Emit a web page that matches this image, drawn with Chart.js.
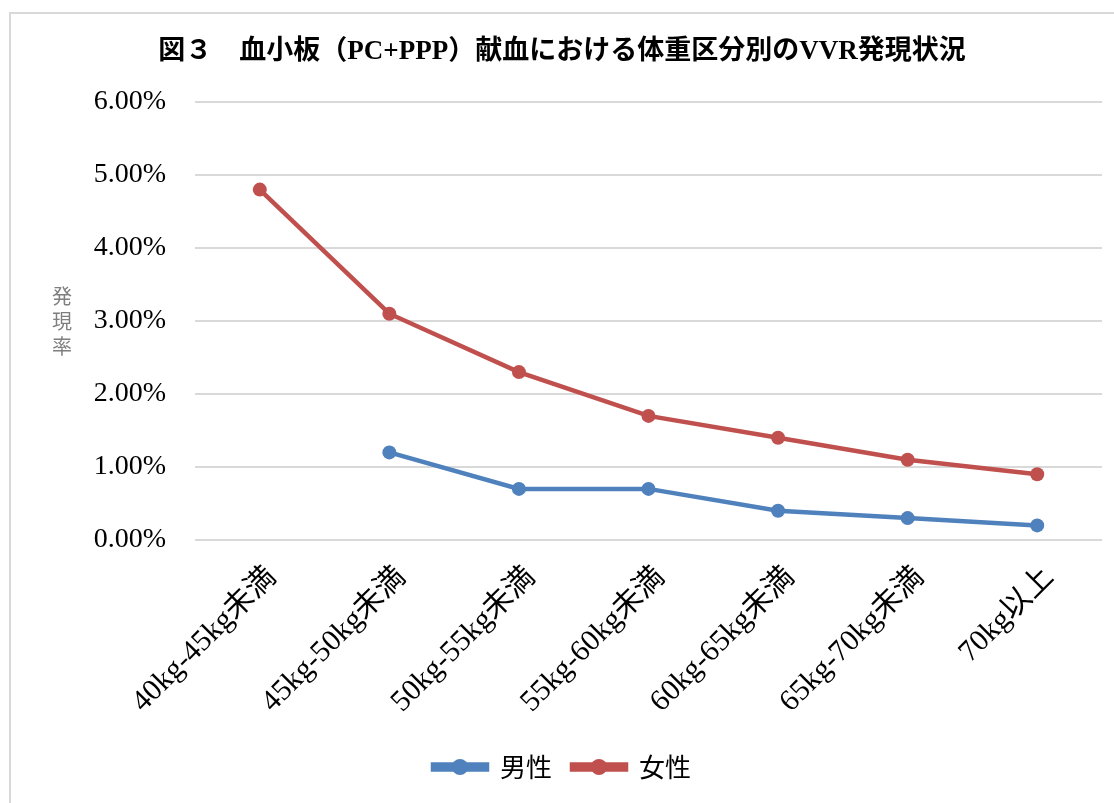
<!DOCTYPE html>
<html lang="ja">
<head>
<meta charset="utf-8">
<title>血小板（PC+PPP）献血における体重区分別のVVR発現状況</title>
<script src="https://cdn.jsdelivr.net/npm/chart.js@4/dist/chart.umd.min.js"></script>
<style>
  html, body { margin: 0; padding: 0; background: #ffffff; }
  #wrap { position: relative; width: 1114px; height: 803px; overflow: hidden; }
  #frame { position: absolute; left: 9px; top: 12px; width: 1200px; height: 900px;
           border-top: 2px solid #d9d9d9; border-left: 2px solid #d9d9d9; }
  #chart { position: absolute; left: 0; top: 0; }
</style>
</head>
<body>
<div id="wrap">
  <div id="frame"></div>
  <canvas id="chart" width="1114" height="803"></canvas>
</div>
<script>
// Weight classes (x axis)
const categories = ['40kg-45kg未満', '45kg-50kg未満', '50kg-55kg未満', '55kg-60kg未満',
                    '60kg-65kg未満', '65kg-70kg未満', '70kg以上'];
// VVR incidence (%) by sex
const maleRates   = [null, 1.2, 0.7, 0.7, 0.4, 0.3, 0.2];
const femaleRates = [4.8, 3.1, 2.3, 1.7, 1.4, 1.1, 0.9];
const seriesNames = ['男性', '女性'];
const seriesColors = ['#4f81bd', '#c0504d'];
const titleText = '図３　血小板（PC+PPP）献血における体重区分別のVVR発現状況';
const yAxisTitle = ['発', '現', '率'];

const serifFont = '"Liberation Serif", "Noto Sans CJK JP", serif';
const sansFont = '"Noto Sans CJK JP", "Noto Sans", sans-serif';

// Vertical, stacked y-axis caption and circle markers on the legend lines
const extras = {
  id: 'extras',
  afterDraw(chart) {
    const ctx = chart.ctx;
    ctx.save();
    ctx.fillStyle = '#7f7f7f';
    ctx.font = '20px ' + sansFont;
    ctx.textAlign = 'center';
    ctx.textBaseline = 'middle';
    const midY = (chart.chartArea.top + chart.chartArea.bottom) / 2;
    yAxisTitle.forEach((ch, i) => {
      ctx.fillText(ch, 62, midY + (i - 1) * 25);
    });
    const legend = chart.legend;
    if (legend && legend.legendHitBoxes) {
      legend.legendHitBoxes.forEach((box, i) => {
        const boxW = legend.options.labels.boxWidth;
        const cx = box.left + boxW / 2;
        const cy = box.top + box.height / 2;
        ctx.beginPath();
        ctx.arc(cx, cy, 8, 0, Math.PI * 2);
        ctx.fillStyle = seriesColors[i];
        ctx.fill();
      });
    }
    ctx.restore();
  }
};

new Chart(document.getElementById('chart'), {
  type: 'line',
  data: {
    labels: categories,
    datasets: [
      { label: seriesNames[0], data: maleRates, borderColor: seriesColors[0],
        backgroundColor: seriesColors[0], borderWidth: 4.5, pointRadius: 7,
        pointBorderWidth: 0, pointBackgroundColor: seriesColors[0], tension: 0 },
      { label: seriesNames[1], data: femaleRates, borderColor: seriesColors[1],
        backgroundColor: seriesColors[1], borderWidth: 4.5, pointRadius: 7,
        pointBorderWidth: 0, pointBackgroundColor: seriesColors[1], tension: 0 }
    ]
  },
  options: {
    responsive: false,
    animation: false,
    layout: { padding: { left: 22, right: 12, top: 0, bottom: 13 } },
    plugins: {
      title: {
        display: true,
        text: titleText,
        color: '#000000',
        font: { family: serifFont, size: 27, weight: 'bold', lineHeight: 1.2 },
        padding: { top: 36, bottom: 33.6 }
      },
      legend: {
        position: 'bottom',
        labels: {
          color: '#000000',
          font: { family: sansFont, size: 26 },
          boxWidth: 54,
          boxHeight: 5,
          padding: 20
        }
      },
      tooltip: { enabled: false }
    },
    scales: {
      x: {
        offset: true,
        grid: { display: false, drawTicks: false },
        border: { display: false },
        ticks: {
          color: '#000000',
          font: { family: serifFont, size: 30 },
          minRotation: 45, maxRotation: 45,
          padding: 20,
          labelOffset: 12
        },
        afterFit(scale) { scale.height = 194; }
      },
      y: {
        min: 0, max: 6,
        grid: { color: '#d9d9d9', lineWidth: 2, drawTicks: false },
        border: { display: false },
        ticks: {
          stepSize: 1,
          color: '#000000',
          font: { family: serifFont, size: 28 },
          padding: 29,
          callback: v => v.toFixed(2) + '%'
        },
        afterFit(scale) { scale.width = 173; }
      }
    }
  },
  plugins: [extras]
});
</script>
</body>
</html>
